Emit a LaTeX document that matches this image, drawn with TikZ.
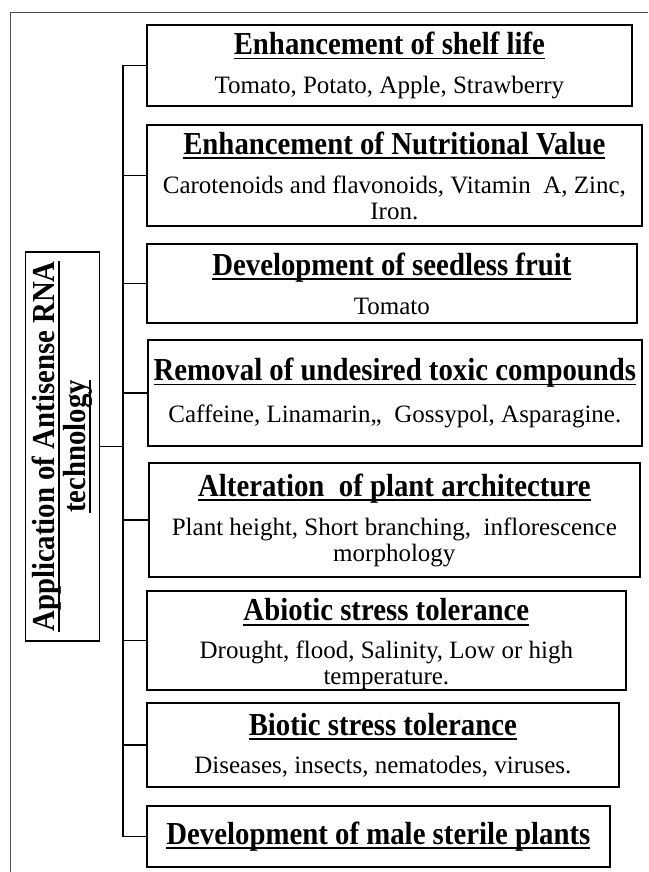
\documentclass[tikz,border=0pt]{standalone}
\usepackage{graphicx}
\usepackage{fontspec}
\setmainfont{Liberation Serif}
% bold heading, a little narrow, with an underline at a fixed depth
\newcommand{\boxtitle}[1]{\leavevmode\setbox0=\hbox{\scalebox{0.9}[1]{\fontsize{32}{33}\selectfont\bfseries #1}}\rlap{\rule[-4.8pt]{\wd0}{1.7pt}}\box0}
\tikzset{
  item/.style={draw, line width=1.7pt, anchor=west, align=center, inner sep=0pt,
    font=\fontsize{25}{26}\selectfont},
  branch/.style={line width=1.5pt},
  frame/.style={line width=0.9pt, black!70},
}
\begin{document}
\begin{tikzpicture}[x=1pt,y=-1pt]
\useasboundingbox (0,0) rectangle (648,872);
% outer frame (cut off at right and bottom)
\draw[frame] (10,872) -- (10,12) -- (648,12);
% root box, turned on its side
\node[draw, line width=1.7pt, rotate=90, align=center, inner sep=0pt,
  font=\fontsize{29}{31}\selectfont,
  minimum width=389pt, minimum height=74pt] (app) at (62.5,446.5)
  {\boxtitle{Application of Antisense RNA}\\\boxtitle{technology}};
% application boxes
\node[item, minimum width=485pt, minimum height=81pt] (shelf) at (146,65.5)
  {\boxtitle{Enhancement of shelf life}\\[13pt]Tomato, Potato, Apple, Strawberry};
\node[item, minimum width=495pt, minimum height=101pt] (nutri) at (146,175.5)
  {\boxtitle{Enhancement of Nutritional Value}\\[13pt]Carotenoids and flavonoids, Vitamin~ A, Zinc,\\Iron.};
\node[item, minimum width=490pt, minimum height=79pt] (seedless) at (146,283.5)
  {\boxtitle{Development of seedless fruit}\\[13pt]Tomato};
\node[item, minimum width=494pt, minimum height=106pt] (toxic) at (147,393)
  {\boxtitle{Removal of undesired toxic compounds}\\[16pt]Caffeine, Linamarin,,~ Gossypol, Asparagine.};
\node[item, minimum width=491pt, minimum height=114pt] (archi) at (148,520)
  {\boxtitle{Alteration~ of plant architecture}\\[13pt]Plant height, Short branching,~ inflorescence\\morphology};
\node[item, minimum width=479pt, minimum height=89pt] (abiotic) at (146,640.5)
  {\rule{0pt}{30pt}\boxtitle{Abiotic stress tolerance}\\[12pt]Drought, flood, Salinity, Low or high\\temperature.};
\node[item, minimum width=472pt, minimum height=84pt] (biotic) at (146,745)
  {\boxtitle{Biotic stress tolerance}\\[12pt]Diseases, insects, nematodes, viruses.};
\node[item, minimum width=463pt, minimum height=61pt] (sterile) at (146,836.5)
  {\boxtitle{Development of male sterile plants}};
% tree lines
\coordinate (trunk) at (123,446.5);
\draw[branch] (app.south) -- (trunk);
\draw[branch] (shelf.west) -| (trunk) |- (sterile.west);
\foreach \n in {nutri,seedless,toxic,archi,abiotic,biotic}
  \draw[branch] (\n.west) -- (\n.west -| trunk);
\end{tikzpicture}
\end{document}
